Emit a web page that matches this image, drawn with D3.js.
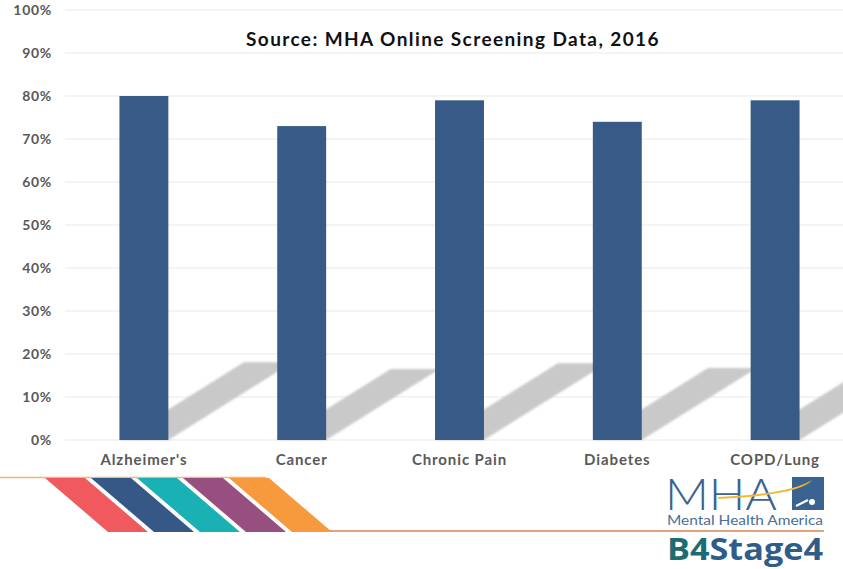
<!DOCTYPE html>
<html>
<head>
<meta charset="utf-8">
<script src="https://cdn.jsdelivr.net/npm/d3@7"></script>
<style>
  body { margin: 0; background: #fff; }
  svg { display: block; font-family: "Century Gothic", Lato, "DejaVu Sans", sans-serif; }
</style>
</head>
<body>
<svg id="chart" width="843" height="569"></svg>
<script>
var categories = ["Alzheimer's", "Cancer", "Chronic Pain", "Diabetes", "COPD/Lung"],
    values = [80, 73, 79, 74, 79],
    yTicks = [0, 10, 20, 30, 40, 50, 60, 70, 80, 90, 100],
    stripeColors = ["#f05a5f", "#355886", "#19b1b3", "#974f80", "#f79a3e"];

var svg = d3.select("#chart"),
    margin = {top: 10, left: 65},
    width = 789,
    height = 430,
    g = svg.append("g").attr("transform", "translate(" + margin.left + "," + margin.top + ")");

var x = d3.scaleBand().domain(categories).range([0, width]).paddingInner(0.69).paddingOuter(0.345),
    y = d3.scaleLinear().domain([0, 100]).range([height, 0]);

// blur for the shadows
var defs = svg.append("defs");
defs.append("filter").attr("id", "soft")
    .append("feGaussianBlur").attr("stdDeviation", 0.8);

// grid lines
g.selectAll(".grid").data(yTicks).enter().append("line")
    .attr("x1", 0).attr("x2", width)
    .attr("y1", function(d) { return y(d); })
    .attr("y2", function(d) { return y(d); })
    .attr("stroke", "#e9e9e9")
    .attr("stroke-width", 1);

// y labels
g.append("g")
    .call(d3.axisLeft(y).tickValues(yTicks).tickSize(0).tickPadding(13).tickFormat(function(d) { return d + "%"; }))
    .call(function(a) { a.select(".domain").remove(); })
    .selectAll("text")
        .attr("fill", "#595959")
        .attr("font-size", "14px")
        .attr("font-weight", "bold")
        .attr("letter-spacing", "0.7px")
        .attr("font-family", "Lato, sans-serif");

// shadows: skewed copies of the bars, leaning to the right
g.selectAll(".shadow").data(values).enter().append("path")
    .attr("class", "shadow")
    .attr("fill", "#c9c9c9")
    .attr("filter", "url(#soft)")
    .attr("d", function(d, i) {
        var x0 = x(categories[i]),
            bw = x.bandwidth(),
            h = (height - y(d)) * 0.226,
            s = h * 1.6;
        return "M" + x0 + "," + height + "L" + (x0 + bw) + "," + height +
            "L" + (x0 + bw + s) + "," + (height - h) + "L" + (x0 + s) + "," + (height - h) + "Z";
    });

// bars
g.selectAll(".bar").data(values).enter().append("rect")
    .attr("class", "bar")
    .attr("x", function(d, i) { return x(categories[i]); })
    .attr("y", function(d) { return y(d); })
    .attr("width", x.bandwidth())
    .attr("height", function(d) { return height - y(d); })
    .attr("fill", "#375a87");

// x labels
g.append("g")
    .attr("transform", "translate(0," + height + ")")
    .call(d3.axisBottom(x).tickSize(0).tickPadding(14))
    .call(function(a) { a.select(".domain").remove(); })
    .selectAll("text")
        .attr("fill", "#595959")
        .attr("font-size", "15px")
        .attr("font-weight", "bold")
        .attr("letter-spacing", "0.9px")
        .attr("font-family", "Lato, sans-serif");

// title
svg.append("text")
    .attr("x", 453).attr("y", 46)
    .attr("text-anchor", "middle")
    .attr("font-family", "Lato, sans-serif")
    .attr("font-weight", "bold")
    .attr("font-size", "19px")
    .attr("letter-spacing", "1.4px")
    .attr("fill", "#111")
    .text("Source: MHA Online Screening Data, 2016");

// bottom decoration
var deco = svg.append("g");
deco.append("line").attr("x1", 0).attr("x2", 266).attr("y1", 477.5).attr("y2", 477.5)
    .attr("stroke", "#f8b470").attr("stroke-width", 1.5);
deco.append("line").attr("x1", 326).attr("x2", 824).attr("y1", 531).attr("y2", 531)
    .attr("stroke", "#e2a07c").attr("stroke-width", 2);
stripeColors.forEach(function(c, i) {
    var x0 = 45 + i * 46;
    deco.append("path")
        .attr("d", "M" + x0 + ",478L" + (x0 + 40) + ",478L" + (x0 + 103) + ",532L" + (x0 + 63) + ",532Z")
        .attr("fill", c);
});

// logo
var logo = svg.append("g");
logo.append("text").attr("x", 665).attr("y", 510)
    .attr("font-family", "Lato, sans-serif").attr("font-weight", 300)
    .attr("font-size", "44px").attr("fill", "#3a6391")
    .attr("textLength", 112).attr("lengthAdjust", "spacingAndGlyphs")
    .text("MHA");
logo.append("rect").attr("x", 792).attr("y", 477).attr("width", 32).attr("height", 33).attr("fill", "#3a6391");
logo.append("path")
    .attr("d", "M718,497 Q790,494 812,480 Q800,495 718,499 Z")
    .attr("fill", "#f7b731");
logo.append("circle").attr("cx", 812).attr("cy", 502).attr("r", 3).attr("fill", "#fff");
logo.append("path").attr("d", "M796,506 L808,500").attr("stroke", "#fff").attr("stroke-width", 2);
logo.append("text").attr("x", 667).attr("y", 525)
    .attr("font-family", "Lato, sans-serif").attr("font-size", "14px").attr("fill", "#4a6f98")
    .attr("textLength", 156).attr("lengthAdjust", "spacingAndGlyphs")
    .text("Mental Health America");
var b4 = logo.append("text").attr("x", 667).attr("y", 560)
    .attr("font-family", "'Open Sans', sans-serif").attr("font-weight", "bold").attr("font-size", "30px")
    .attr("textLength", 156).attr("lengthAdjust", "spacingAndGlyphs");
b4.append("tspan").attr("fill", "#1b6d71").text("B4");
b4.append("tspan").attr("fill", "#2f5d8a").text("Stage4");
</script>
</body>
</html>
